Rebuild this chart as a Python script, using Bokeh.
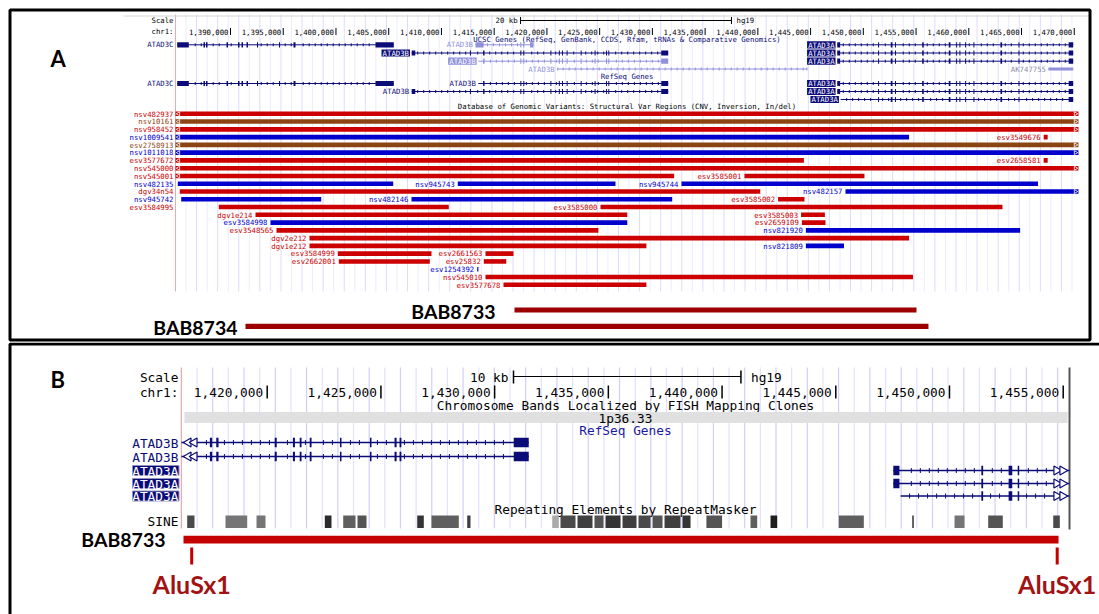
from bokeh.plotting import figure
from bokeh.layouts import column
from bokeh.models import Range1d, ColumnDataSource
from bokeh.core.properties import value
from bokeh.embed import file_html
from bokeh.resources import INLINE
import math

# ======================= DATA =======================
# Ruler ticks (chr1, hg19)
TICKS_A = [1390000, 1395000, 1400000, 1405000, 1410000, 1415000, 1420000, 1425000,
           1430000, 1435000, 1440000, 1445000, 1450000, 1455000, 1460000, 1465000, 1470000]
TICKS_B = [1420000, 1425000, 1430000, 1435000, 1440000, 1445000, 1450000, 1455000]
WIN_A = [1384785, 1470400]          # browser window, panel A
WIN_B = [1416228, 1455277]          # browser window, panel B
SCALEBAR_A = [1417500, 20000]       # start, length (20 kb)
SCALEBAR_B = [1430830, 10000]       # start, length (10 kb)

# Exon coordinates
EX_ATAD3C_S = [1384947, 1387440, 1387677, 1389621, 1390711, 1391043, 1391517, 1392512, 1394598, 1395973, 1403747]
EX_ATAD3C_E = [1386047, 1387582, 1387819, 1389763, 1390853, 1391185, 1391659, 1392612, 1394698, 1396163, 1405483]
EX_ATAD3B_S = [1407180, 1412700, 1413950, 1417480, 1417760, 1420330, 1421130, 1421430, 1421870, 1423200, 1424520, 1425600, 1425820, 1430840]
EX_ATAD3B_E = [1407520, 1412800, 1414090, 1417580, 1417860, 1420420, 1421220, 1421510, 1421950, 1423250, 1424570, 1425690, 1425900, 1431500]
EX_ATAD3BF_S = [1413230, 1417480, 1417760, 1418400]
EX_ATAD3BF_E = [1414000, 1417580, 1417860, 1418728]
EX_ATAD3BNC_S = [1420975, 1444600]
EX_ATAD3BNC_E = [1421060, 1444676]
EX_ATAD3A_S = [1447530, 1451400, 1452600, 1453000, 1455580, 1458100, 1458800, 1459110, 1459650, 1460440, 1463000, 1464710, 1469470]
EX_ATAD3A_E = [1447800, 1451480, 1452760, 1453060, 1455730, 1458260, 1458860, 1459170, 1459710, 1460500, 1463160, 1464770, 1469900]
EX_AK_S = [1467555]
EX_AK_E = [1469900]

# Panel A transcripts (UCSC Genes rows 0-3, RefSeq rows 4-6)
TX_A_NAME = ["ATAD3C", "ATAD3B", "ATAD3A", "ATAD3B", "ATAD3A", "ATAD3B", "ATAD3A", "ATAD3B", "AK747755",
             "ATAD3C", "ATAD3B", "ATAD3A", "ATAD3B", "ATAD3A", "ATAD3A"]
TX_A_ROW = [0, 0, 0, 1, 1, 2, 2, 3, 3, 4, 4, 4, 5, 5, 6]
TX_A_START = [1384947, 1413230, 1447530, 1407180, 1447530, 1413500, 1447530, 1420975, 1467555,
              1384947, 1413500, 1447530, 1407180, 1447530, 1447850]
TX_A_END = [1405483, 1418728, 1469900, 1431500, 1469900, 1431500, 1469900, 1444676, 1469900,
            1405483, 1431500, 1469900, 1431500, 1469900, 1469900]
TX_A_EXSET = ["3C", "3BF", "3A", "3B", "3A", "3B", "3A", "3BNC", "AK", "3C", "3B", "3A", "3B", "3A", "3A"]
TX_A_FADED = [0, 1, 0, 0, 0, 1, 0, 1, 1, 0, 0, 0, 0, 0, 0]
TX_A_CODING = [1, 1, 1, 1, 1, 1, 1, 0, 0, 1, 1, 1, 1, 1, 1]
TX_A_LABEL = ["margin", "plain", "box", "box", "box", "box", "box", "plain", "plain",
              "margin", "plain", "box", "plain", "box", "box"]

# Panel B transcripts (RefSeq)
TX_B_NAME = ["ATAD3B", "ATAD3B", "ATAD3A", "ATAD3A", "ATAD3A"]
TX_B_START = [1407180, 1413500, 1447530, 1447530, 1447850]
TX_B_END = [1431500, 1431500, 1469900, 1469900, 1469900]
TX_B_EXSET = ["3B", "3B", "3A", "3A", "3A"]
TX_B_LABEL = ["plain", "plain", "box", "box", "box"]

# Database of Genomic Variants (panel A)
DGV_NAME = ["nsv482937", "nsv10161", "nsv958452", "nsv1009541", "esv3549676", "esv2758913", "nsv1011018",
            "esv3577672", "esv2658581", "nsv545000", "nsv545001", "esv3585001", "nsv482135", "nsv945743",
            "nsv945744", "dgv34n54", "nsv482157", "nsv945742", "nsv482146", "esv3585002", "esv3584995",
            "esv3585000", "dgv1e214", "esv3585003", "esv3584998", "esv2659109", "esv3548565", "nsv821920",
            "dgv2e212", "dgv1e212", "nsv821809", "esv3584999", "esv2661563", "esv2662001", "esv25832",
            "esv1254392", "nsv545010", "esv3577678"]
DGV_ROW = [0, 1, 2, 3, 3, 4, 5, 6, 6, 7, 8, 8, 9, 9, 9, 10, 10, 11, 11, 11, 12, 12, 13, 13, 14, 14,
           15, 15, 16, 17, 17, 18, 18, 19, 19, 20, 21, 22]
DGV_TYPE = ["loss", "both", "loss", "gain", "loss", "both", "gain", "loss", "loss", "loss", "loss", "loss",
            "gain", "gain", "gain", "loss", "gain", "gain", "gain", "loss", "loss", "loss", "loss", "loss",
            "gain", "loss", "loss", "gain", "loss", "loss", "gain", "loss", "loss", "loss", "loss", "gain",
            "loss", "loss"]
DGV_START = [1384785, 1384785, 1384785, 1384785, 1467100, 1384785, 1384785, 1384785, 1467100, 1384785,
             1384785, 1438732, 1385004, 1411550, 1432759, 1385193, 1448308, 1385326, 1407161, 1441918,
             1388891, 1425080, 1392370, 1444098, 1393792, 1444174, 1394361, 1444553, 1397490, 1397490,
             1444553, 1400173, 1414177, 1400268, 1414015, 1413390, 1414177, 1415883]
DGV_END = [1470400, 1470400, 1470400, 1454338, 1467480, 1470400, 1470400, 1444364, 1467480, 1470400,
           1432067, 1450110, 1405426, 1426502, 1466559, 1440230, 1470400, 1398599, 1431878, 1444421,
           1410697, 1463193, 1427621, 1446355, 1427621, 1446412, 1424881, 1464870, 1454338, 1429432,
           1448166, 1409057, 1416831, 1408896, 1416149, 1413466, 1454708, 1429432]
DGV_MARGIN = [1, 1, 1, 1, 0, 1, 1, 1, 0, 1, 1, 0, 1, 0, 0, 1, 0, 1, 0, 0, 1, 0, 0, 0, 0, 0, 0, 0,
              0, 0, 0, 0, 0, 0, 0, 0, 0, 0]

# Patient deletions
BAB_A_NAME = ["BAB8733", "BAB8734"]
BAB_A_START = [1416926, 1391422]
BAB_A_END = [1455040, 1456177]
BAB_B_START = 1416320
BAB_B_END = 1454794
ALU_POS = [1416680, 1454736]
ALU_NAME = ["AluSx1", "AluSx1"]

# RepeatMasker SINE elements (panel B): start, end, darkness (0-1)
REP_START = [1416482, 1418166, 1419530, 1422533, 1423342, 1423971, 1426596, 1427224, 1428794, 1432532,
             1432896, 1433644, 1434391, 1434875, 1435623, 1436326, 1436942, 1437470, 1438261, 1439311,
             1441251, 1442131, 1445134, 1448361, 1450221, 1451702, 1454561]
REP_END = [1416803, 1419121, 1419925, 1422827, 1423883, 1424366, 1426886, 1428425, 1428939, 1432822,
           1433556, 1434303, 1434787, 1435535, 1436238, 1436854, 1437382, 1438173, 1438613, 1440001,
           1441545, 1442425, 1446233, 1448431, 1450661, 1452344, 1454851]
REP_DARK = [0.75, 0.55, 0.55, 0.9, 0.65, 0.7, 0.85, 0.65, 0.8, 0.3, 0.75, 0.8, 0.7, 0.85, 0.8, 0.75,
            0.7, 0.8, 0.85, 0.7, 0.65, 0.95, 0.65, 0.8, 0.55, 0.7, 0.75]

# ======================= LAYOUT HELPERS =======================
A_PX0, A_G0, A_S = 230.0, 1390000, 0.010547   # page px of 1,390,000 ; px per bp
B_PX0, B_G0, B_S = 266.7, 1420000, 0.022743
BPA = 1.0 / A_S
BPB = 1.0 / B_S
W = 1099


def ax(px):
    return A_G0 + (px - A_PX0) / A_S


def bx(px):
    return B_G0 + (px - B_PX0) / B_S


def make_fig(h, x0, x1, y0, y1):
    p = figure(width=W, height=h, x_range=Range1d(x0, x1), y_range=Range1d(y0, y1),
               output_backend="svg", toolbar_location=None, min_border=0,
               x_axis_location=None, y_axis_location=None)
    p.grid.visible = False
    p.outline_line_color = None
    p.background_fill_color = "white"
    p.border_fill_color = "white"
    return p


def T(p, xs, ys, texts, size, color="black", align="left", font="DejaVu Sans Mono",
      style="normal", baseline="middle"):
    d = dict(x=list(xs), y=list(ys), t=list(texts))
    kw = {}
    if isinstance(color, (list, tuple)):
        d["col"] = list(color)
        kw["text_color"] = "col"
    else:
        kw["text_color"] = color
    p.text(x="x", y="y", text="t", source=ColumnDataSource(d), text_font=value(font),
           text_font_size=size, text_align=align, text_baseline=baseline,
           text_font_style=style, **kw)


EXONS = {
    "3C": (EX_ATAD3C_S, EX_ATAD3C_E),
    "3B": (EX_ATAD3B_S, EX_ATAD3B_E),
    "3BF": (EX_ATAD3BF_S, EX_ATAD3BF_E),
    "3BNC": (EX_ATAD3BNC_S, EX_ATAD3BNC_E),
    "3A": (EX_ATAD3A_S, EX_ATAD3A_E),
    "AK": (EX_AK_S, EX_AK_E),
}


def exons_of(key, s, e):
    xs, xe = EXONS[key]
    return [(max(a, s), min(b, e)) for a, b in zip(xs, xe) if b > s and a < e]


def intron_ticks(exl, s, e, step, pad):
    """decorative strand ticks along the intron line"""
    out = []
    x = s + step
    while x < e - pad:
        if all(not (a - pad < x < b + pad) for a, b in exl):
            out.append(x)
        x += step
    return out


NAVY = "#0c0c78"
FADED = "#9090dc"
GUIDE1 = "#dcdcfa"
GUIDE2 = "#ececfd"
EDGE_RED = "#f4a6a6"
DGV_COL = {"loss": "#cc0000", "gain": "#0000cc", "both": "#8b4513"}

# ======================= PANEL A =======================
pA = make_fig(342, ax(0), ax(W), 342, 0)

gA = [WIN_A[0] + k * 1000 for k in range(1, 90) if WIN_A[0] + k * 1000 < WIN_A[1]]
pA.segment(x0=gA, x1=gA, y0=14, y1=291, line_color=[GUIDE1 if i % 2 else GUIDE2 for i in range(len(gA))],
           line_width=1)
pA.segment(x0=[WIN_A[0]], x1=[WIN_A[0]], y0=14, y1=291, line_color=EDGE_RED, line_width=1)
pA.segment(x0=[ax(123)], x1=[ax(1088)], y0=15.5, y1=15.5, line_color="#d6d6d6", line_width=1)

FA = "7.3px"
sb0, sb1 = SCALEBAR_A[0], SCALEBAR_A[0] + SCALEBAR_A[1]
pA.segment(x0=[sb0], x1=[sb1], y0=20, y1=20, line_color="black", line_width=1)
pA.segment(x0=[sb0, sb1], x1=[sb0, sb1], y0=16.5, y1=23.5, line_color="black", line_width=1)
T(pA, [WIN_A[0] - 2 * BPA], [20], ["Scale"], FA, align="right")
T(pA, [sb0 - 3 * BPA], [20], ["%d kb" % (SCALEBAR_A[1] // 1000)], FA, align="right")
T(pA, [sb1 + 5 * BPA], [20], ["hg19"], FA)
T(pA, [WIN_A[0] - 2 * BPA], [31], ["chr1:"], FA, align="right")
T(pA, [t - 2 * BPA for t in TICKS_A], [31] * len(TICKS_A), ["{:,}".format(t) for t in TICKS_A], FA,
  align="right")
pA.segment(x0=TICKS_A, x1=TICKS_A, y0=27.5, y1=34.5, line_color="black", line_width=1)

midA = (WIN_A[0] + WIN_A[1]) / 2
T(pA, [midA], [38.5], ["UCSC Genes (RefSeq, GenBank, CCDS, Rfam, tRNAs & Comparative Genomics)"], FA,
  color=NAVY, align="center")
T(pA, [midA], [76], ["RefSeq Genes"], FA, color=NAVY, align="center")
T(pA, [midA], [106], ["Database of Genomic Variants: Structural Var Regions (CNV, Inversion, In/del)"], FA,
  align="center")

# genes
ROW_Y_A = [44.3, 52.5, 60.7, 68.5, 83.0, 91.0, 99.0]
ln = dict(x0=[], x1=[], y=[], c=[])
ex = dict(l=[], r=[], t=[], b=[], c=[])
tk = dict(x=[], y=[], c=[])
lab_plain = dict(x=[], y=[], t=[], c=[])
box = dict(l=[], r=[], t=[], b=[], c=[])
lab_box = dict(x=[], y=[], t=[])
for i, name in enumerate(TX_A_NAME):
    y = ROW_Y_A[TX_A_ROW[i]]
    col = FADED if TX_A_FADED[i] else NAVY
    s, e = TX_A_START[i], TX_A_END[i]
    ln["x0"].append(s); ln["x1"].append(e); ln["y"].append(y); ln["c"].append(col)
    h = 2.6 if TX_A_CODING[i] else 1.6
    exl = exons_of(TX_A_EXSET[i], s, e)
    for a, b in exl:
        ex["l"].append(a); ex["r"].append(max(b, a + BPA)); ex["t"].append(y - h); ex["b"].append(y + h)
        ex["c"].append(col)
    if TX_A_EXSET[i] != "AK":
        for x in intron_ticks(exl, s, e, 6 * BPA, 2 * BPA):
            tk["x"].append(x); tk["y"].append(y); tk["c"].append(col)
    kind = TX_A_LABEL[i]
    if kind == "margin":
        lab_plain["x"].append(WIN_A[0] - 2 * BPA); lab_plain["y"].append(y); lab_plain["t"].append(name)
        lab_plain["c"].append(col)
    elif kind == "plain":
        lab_plain["x"].append(s - 2.5 * BPA); lab_plain["y"].append(y); lab_plain["t"].append(name)
        lab_plain["c"].append("#8a8aa8" if name.startswith("AK") else col)
    else:
        rx = s - 1.7 * BPA
        box["l"].append(rx - 28.5 * BPA); box["r"].append(rx); box["t"].append(y - 3.6); box["b"].append(y + 3.6)
        box["c"].append(col)
        lab_box["x"].append(rx - 14.2 * BPA); lab_box["y"].append(y + 0.3); lab_box["t"].append(name)
pA.segment(x0="x0", x1="x1", y0="y", y1="y", line_color="c", line_width=1, source=ColumnDataSource(ln))
pA.scatter(x="x", y="y", marker="dash", angle=math.pi / 2, size=3, line_color="c", line_width=1,
           source=ColumnDataSource(tk))
pA.quad(left="l", right="r", top="t", bottom="b", fill_color="c", line_color=None, source=ColumnDataSource(ex))
pA.quad(left="l", right="r", top="t", bottom="b", fill_color="c", line_color=None, source=ColumnDataSource(box))
T(pA, lab_plain["x"], lab_plain["y"], lab_plain["t"], FA, color=lab_plain["c"], align="right")
T(pA, lab_box["x"], lab_box["y"], lab_box["t"], FA, color="white", align="center")

# DGV structural variants
DGV_Y0, DGV_DY = 113.3, 7.77
vy = [DGV_Y0 + r * DGV_DY for r in DGV_ROW]
vc = [DGV_COL[t] for t in DGV_TYPE]
pA.quad(left=DGV_START, right=[max(e, s + 1.2 * BPA) for s, e in zip(DGV_START, DGV_END)],
        top=[y - 2.3 for y in vy], bottom=[y + 2.3 for y in vy], fill_color=vc, line_color=None)
lx = [WIN_A[0] - 2 * BPA if m else s - 3 * BPA for s, m in zip(DGV_START, DGV_MARGIN)]
T(pA, lx, [y + 0.3 for y in vy], DGV_NAME, FA, color=vc, align="right")
lm_x, lm_y, rm_x, rm_y = [], [], [], []
for s, e, y in zip(DGV_START, DGV_END, vy):
    if s <= WIN_A[0]:
        lm_x.append(WIN_A[0] + 3 * BPA); lm_y.append(y)
    if e >= WIN_A[1]:
        rm_x.append(WIN_A[1] - 3 * BPA); rm_y.append(y)
pA.scatter(x=lm_x, y=lm_y, marker="triangle", size=4, angle=math.pi / 2, fill_color=None,
           line_color="white", line_width=0.8)
pA.scatter(x=rm_x, y=rm_y, marker="triangle", size=4, angle=-math.pi / 2, fill_color=None,
           line_color="white", line_width=0.8)

# patient deletions
BAB_A_Y = [309.5, 325.8]
BAB_A_TXT_X = [ax(495), ax(237)]
pA.quad(left=BAB_A_START, right=BAB_A_END, top=[y - 2.6 for y in BAB_A_Y], bottom=[y + 2.6 for y in BAB_A_Y],
        fill_color="#9c0000", line_color=None)
T(pA, BAB_A_TXT_X, [y + 1.2 for y in BAB_A_Y], BAB_A_NAME, "19.5px", color="black", align="right",
  font="Lato", style="bold")
T(pA, [ax(50)], [57.5], ["A"], "22px", font="Lato", style="bold")

pA.quad(left=[ax(9.5)], right=[ax(1089.5)], top=[9.5], bottom=[339.5], fill_color=None,
        line_color="black", line_width=3)

# ======================= PANEL B =======================
pB = make_fig(272, bx(0), bx(W), 614, 342)
FB = "12.8px"

gB = [WIN_B[0] + k * 688 for k in range(1, 60) if WIN_B[0] + k * 688 < WIN_B[1] - 200]
pB.segment(x0=gB, x1=gB, y0=367, y1=528, line_color=["#cfcff8" if i % 2 else "#e2e2fc" for i in range(len(gB))],
           line_width=1.2)
pB.segment(x0=[WIN_B[0]], x1=[WIN_B[0]], y0=367, y1=528, line_color=EDGE_RED, line_width=1.2)
pB.segment(x0=[WIN_B[1]], x1=[WIN_B[1]], y0=367, y1=529, line_color="#555555", line_width=2)

sb0, sb1 = SCALEBAR_B[0], SCALEBAR_B[0] + SCALEBAR_B[1]
pB.segment(x0=[sb0], x1=[sb1], y0=376, y1=376, line_color="black", line_width=1)
pB.segment(x0=[sb0, sb1], x1=[sb0, sb1], y0=370, y1=383, line_color="black", line_width=1.5)
T(pB, [WIN_B[0] - 3 * BPB], [376.5], ["Scale"], FB, align="right")
T(pB, [sb0 - 5 * BPB], [376.5], ["%d kb" % (SCALEBAR_B[1] // 1000)], FB, align="right")
T(pB, [sb1 + 10 * BPB], [376.5], ["hg19"], FB)
T(pB, [WIN_B[0] - 3 * BPB], [392], ["chr1:"], FB, align="right")
T(pB, [t - 4 * BPB for t in TICKS_B], [392] * len(TICKS_B), ["{:,}".format(t) for t in TICKS_B], FB,
  align="right")
pB.segment(x0=TICKS_B, x1=TICKS_B, y0=385, y1=398, line_color="black", line_width=1.5)

midB = (WIN_B[0] + WIN_B[1]) / 2
T(pB, [midB], [405], ["Chromosome Bands Localized by FISH Mapping Clones"], FB, align="center")
pB.quad(left=[WIN_B[0] + 3 * BPB], right=[WIN_B[1] - 2 * BPB], top=[411.5], bottom=[422.5],
        fill_color="#e0e0e0", line_color=None)
T(pB, [midB], [417.5], ["1p36.33"], FB, align="center")
T(pB, [midB], [430], ["RefSeq Genes"], FB, color="#1a1aa0", align="center")

ROW_Y_B = [442.0, 456.0, 470.0, 483.0, 495.5]
ln = dict(x0=[], x1=[], y=[])
ex = dict(l=[], r=[], t=[], b=[])
tk = dict(x=[], y=[])
larr = dict(x=[], y=[])
rarr = dict(x=[], y=[])
for i, name in enumerate(TX_B_NAME):
    y = ROW_Y_B[i]
    s, e = max(TX_B_START[i], WIN_B[0]), min(TX_B_END[i], WIN_B[1])
    ln["x0"].append(s); ln["x1"].append(e); ln["y"].append(y)
    exl = exons_of(TX_B_EXSET[i], s, e)
    for a, b in exl:
        ex["l"].append(a); ex["r"].append(max(b, a + 1.5 * BPB)); ex["t"].append(y - 4.8); ex["b"].append(y + 4.8)
    ts = s + 16 * BPB if TX_B_START[i] < WIN_B[0] else s
    te = e - 16 * BPB if TX_B_END[i] > WIN_B[1] else e
    for x in intron_ticks(exl, ts, te, 9 * BPB, 3 * BPB):
        tk["x"].append(x); tk["y"].append(y)
    if TX_B_START[i] < WIN_B[0]:
        larr["x"] += [WIN_B[0] + 7 * BPB, WIN_B[0] + 13 * BPB]; larr["y"] += [y, y]
    if TX_B_END[i] > WIN_B[1]:
        rarr["x"] += [WIN_B[1] - 13 * BPB, WIN_B[1] - 7 * BPB]; rarr["y"] += [y, y]
pB.segment(x0="x0", x1="x1", y0="y", y1="y", line_color=NAVY, line_width=1.3, source=ColumnDataSource(ln))
pB.scatter(x="x", y="y", marker="dash", angle=math.pi / 2, size=5, line_color=NAVY, line_width=1,
           source=ColumnDataSource(tk))
pB.quad(left="l", right="r", top="t", bottom="b", fill_color=NAVY, line_color=None, source=ColumnDataSource(ex))
pB.scatter(x=larr["x"], y=larr["y"], marker="triangle", size=9, angle=math.pi / 2, fill_color="white",
           line_color=NAVY, line_width=1.2)
pB.scatter(x=rarr["x"], y=rarr["y"], marker="triangle", size=9, angle=-math.pi / 2, fill_color="white",
           line_color=NAVY, line_width=1.2)
bx_y = [ROW_Y_B[i] for i in range(len(TX_B_NAME)) if TX_B_LABEL[i] == "box"]
pB.quad(left=[bx(132)] * len(bx_y), right=[bx(178.5)] * len(bx_y), top=[y - 5 for y in bx_y],
        bottom=[y + 5 for y in bx_y], fill_color=NAVY, line_color="#9090c0", line_width=1)
T(pB, [WIN_B[0] - 3 * BPB] * len(TX_B_NAME), [y + 0.5 for y in ROW_Y_B], TX_B_NAME, FB,
  color=["white" if k == "box" else NAVY for k in TX_B_LABEL], align="right")

# repeats
T(pB, [midB], [508.5], ["Repeating Elements by RepeatMasker"], FB, align="center")
T(pB, [WIN_B[0] - 3 * BPB], [521], ["SINE"], FB, align="right")
shade = []
for d in REP_DARK:
    g = int(round(235 - d * 215))
    shade.append("#%02x%02x%02x" % (g, g, g))
pB.quad(left=REP_START, right=REP_END, top=515, bottom=527.5, fill_color=shade, line_color=None)

# deletion BAB8733 with flanking AluSx1 elements
pB.quad(left=[BAB_B_START], right=[BAB_B_END], top=[535.3], bottom=[543], fill_color="#c40000", line_color=None)
T(pB, [bx(165)], [538.5], ["BAB8733"], "19.5px", align="right", font="Lato", style="bold")
pB.segment(x0=ALU_POS, x1=ALU_POS, y0=547, y1=564, line_color="#c40000", line_width=3)
T(pB, ALU_POS, [583.5, 583.5], ALU_NAME, "25px", color="#a31212", align="center", font="Lato", style="bold")
T(pB, [bx(50)], [378.5], ["B"], "22px", font="Lato", style="bold")

pB.quad(left=[bx(9.5)], right=[bx(1300)], top=[343.5], bottom=[800], fill_color=None,
        line_color="black", line_width=3)

layout = column(pA, pB, spacing=0)
open("out.html", "w").write(file_html(layout, INLINE))
